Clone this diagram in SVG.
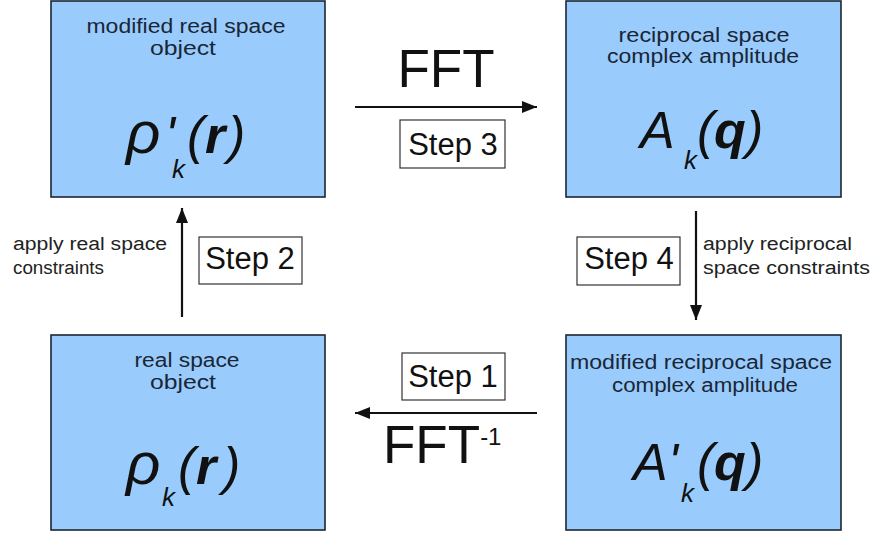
<svg xmlns="http://www.w3.org/2000/svg" width="874" height="536" viewBox="0 0 874 536">
<style>
.box{fill:#99ccfc;stroke:#1c2633;stroke-width:1.6}
.lbl{font-family:"Liberation Sans",Arial,sans-serif;font-size:20px;fill:#1a2636;text-anchor:middle}
.side{font-family:"Liberation Sans",Arial,sans-serif;font-size:18px;fill:#222}
.math{font-family:"Liberation Sans",Arial,sans-serif;font-style:italic;fill:#111}
.bd{font-weight:bold}
.step{fill:#fff;stroke:#333;stroke-width:1.2}
.stxt{font-family:"Liberation Sans",Arial,sans-serif;font-size:31px;fill:#111;text-anchor:middle}
.fft{font-family:"Liberation Sans",Arial,sans-serif;font-size:53px;fill:#111}
.conn{stroke:#111;stroke-width:2.2;fill:none;marker-end:url(#ah)}
</style>
<defs>
<marker id="ah" markerUnits="userSpaceOnUse" markerWidth="15" markerHeight="12" refX="15" refY="6" orient="auto">
<path d="M0,0 L15,6 L0,12 z" fill="#111"/>
</marker>
</defs>
<rect width="874" height="536" fill="#fff"/>
<g id="node-tl">
<rect class="box" x="51" y="1" width="274" height="196"/>
<text class="lbl" x="186" y="33" textLength="199" lengthAdjust="spacingAndGlyphs">modified real space</text>
<text class="lbl" x="183" y="55" textLength="66" lengthAdjust="spacingAndGlyphs">object</text>
<text class="math" font-size="52" y="153"><tspan x="126" font-size="60">ρ</tspan><tspan x="165">'</tspan><tspan x="172" y="178" font-size="26">k</tspan><tspan x="187" y="153">(</tspan><tspan x="205" class="bd">r</tspan><tspan x="228">)</tspan></text>
</g>
<g id="node-tr">
<rect class="box" x="566" y="1" width="275" height="196"/>
<text class="lbl" x="704" y="42" textLength="171" lengthAdjust="spacingAndGlyphs">reciprocal space</text>
<text class="lbl" x="703" y="63" textLength="192" lengthAdjust="spacingAndGlyphs">complex amplitude</text>
<text class="math" font-size="52" y="148"><tspan x="640">A</tspan><tspan x="684" y="169" font-size="26">k</tspan><tspan x="697" y="148">(</tspan><tspan x="714" class="bd">q</tspan><tspan x="746">)</tspan></text>
</g>
<g id="node-bl">
<rect class="box" x="51" y="335" width="274" height="195"/>
<text class="lbl" x="187" y="367" textLength="105" lengthAdjust="spacingAndGlyphs">real space</text>
<text class="lbl" x="183" y="389" textLength="66" lengthAdjust="spacingAndGlyphs">object</text>
<text class="math" font-size="52" y="484"><tspan x="126" font-size="60">ρ</tspan><tspan x="162" y="506" font-size="26">k</tspan><tspan x="178" y="484">(</tspan><tspan x="196" class="bd">r</tspan><tspan x="223">)</tspan></text>
</g>
<g id="node-br">
<rect class="box" x="566" y="335" width="275" height="195"/>
<text class="lbl" x="701" y="369" textLength="262" lengthAdjust="spacingAndGlyphs">modified reciprocal space</text>
<text class="lbl" x="705" y="392" textLength="186" lengthAdjust="spacingAndGlyphs">complex amplitude</text>
<text class="math" font-size="52" y="480"><tspan x="633">A</tspan><tspan x="668">'</tspan><tspan x="681" y="502" font-size="26">k</tspan><tspan x="697" y="480">(</tspan><tspan x="714" class="bd">q</tspan><tspan x="746">)</tspan></text>
</g>
<g id="connectors">
<line class="conn" x1="355" y1="107" x2="537" y2="107"/>
<line class="conn" x1="537" y1="413" x2="355" y2="413"/>
<line class="conn" x1="182" y1="317" x2="182" y2="208"/>
<line class="conn" x1="696" y1="211" x2="696" y2="320"/>
</g>
<g id="labels">
<text class="fft" x="446" y="87" text-anchor="middle">FFT</text>
<rect class="step" x="400" y="120" width="105" height="48"/>
<text class="stxt" x="453" y="155">Step 3</text>
<rect class="step" x="402" y="353" width="103" height="47"/>
<text class="stxt" x="453" y="387">Step 1</text>
<text class="fft" x="383" y="463">FFT<tspan font-size="24" dy="-18">-1</tspan></text>
<rect class="step" x="199" y="237" width="103" height="47"/>
<text class="stxt" x="250" y="269">Step 2</text>
<rect class="step" x="577" y="237" width="103" height="48"/>
<text class="stxt" x="629" y="269">Step 4</text>
<text class="side" x="13" y="250" textLength="154" lengthAdjust="spacingAndGlyphs">apply real space</text>
<text class="side" x="13" y="274" textLength="91" lengthAdjust="spacingAndGlyphs">constraints</text>
<text class="side" x="703" y="250" textLength="149" lengthAdjust="spacingAndGlyphs">apply reciprocal</text>
<text class="side" x="703" y="274" textLength="167" lengthAdjust="spacingAndGlyphs">space constraints</text>
</g>
</svg>
